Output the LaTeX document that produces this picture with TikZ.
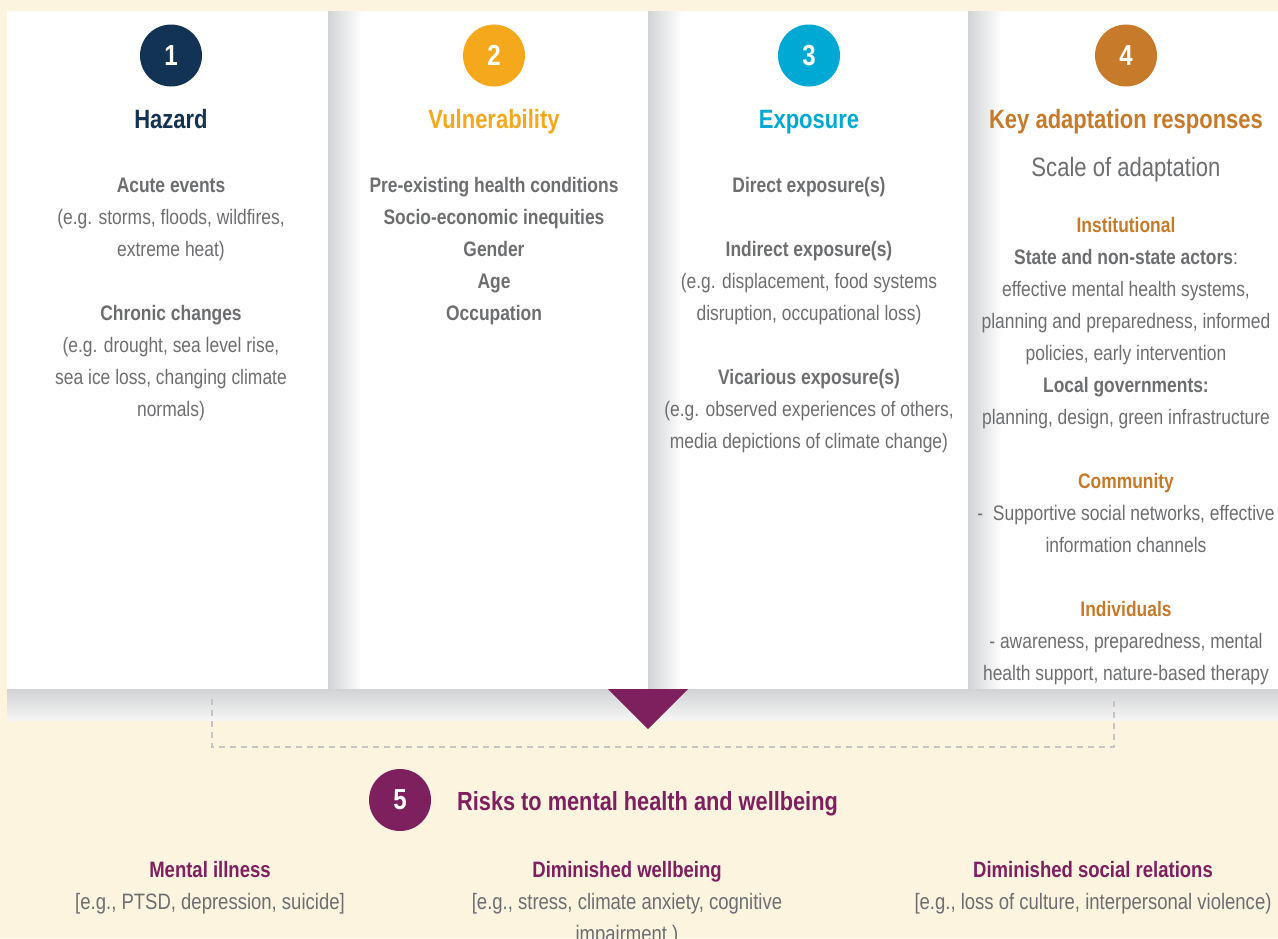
\documentclass[tikz,border=0pt]{standalone}
\usepackage{fontspec}
\setmainfont{Liberation Sans}[FakeStretch=0.83]
\definecolor{cream}{HTML}{FDF4E0}
\definecolor{navy}{HTML}{123354}
\definecolor{amber}{HTML}{F5A81C}
\definecolor{cyanc}{HTML}{00A8D4}
\definecolor{bronze}{HTML}{C77A2A}
\definecolor{plum}{HTML}{7E1F5E}
\definecolor{txt}{HTML}{6D6E70}
\definecolor{shadowgray}{HTML}{D2D3D5}
\definecolor{dashgray}{HTML}{C4C4C4}
\tikzset{
  numcirc/.style={circle, minimum size=62pt, inner sep=0, text=white, font=\fontsize{29}{32}\selectfont\bfseries},
  ttl/.style={anchor=base, inner sep=0, font=\fontsize{26.5}{30}\selectfont\bfseries},
  blk/.style={anchor=north, inner sep=0, align=center, text=txt, font=\fontsize{21}{32}\selectfont},
  bblk/.style={blk, font=\fontsize{21}{32}\selectfont\bfseries},
  rblk/.style={blk, font=\fontsize{22.3}{32}\selectfont},
  colshade/.style={left color=shadowgray, right color=white},
}
\newcommand{\fl}{\rule{0pt}{16pt}}
\begin{document}
\begin{tikzpicture}[x=1pt,y=-1pt]
\useasboundingbox (0,0) rectangle (1278,938);
\fill[cream] (0,0) rectangle (1278,938);
% panels
\fill[white] (7,11) rectangle (1278,690);
\shade[colshade] (328,11) rectangle (362,690);
\shade[colshade] (648,11) rectangle (682,690);
\shade[colshade] (968,11) rectangle (1002,690);
\shade[top color=shadowgray, bottom color=white!96!black] (7,689) rectangle (1278,720);
% dashed bracket
\coordinate (dl) at (212,699);
\coordinate (dr) at (1114,698);
\draw[dashgray, line width=1.3pt, dash pattern=on 6pt off 5pt] (dl) -- (212,747) -- (1114,747) -- (dr);
% triangle
\fill[plum] (608,689) -- (688,689) -- (648,729) -- cycle;

% column 1
\node[numcirc, fill=navy] (c1) at (171,55.5) {1};
\node[ttl, text=navy] (t1) at (171,128) {Hazard};
\node[blk] (h1) at (171,176) {\fl\textbf{Acute events}\\(e.g. storms, floods, wildfires,\\extreme heat)};
\node[blk] (h2) at (171,304) {\fl\textbf{Chronic changes}\\(e.g. drought, sea level rise,\\sea ice loss, changing climate\\normals)};

% column 2
\node[numcirc, fill=amber] (c2) at (494,55.5) {2};
\node[ttl, text=amber] (t2) at (494,128) {Vulnerability};
\node[bblk] (v1) at (494,176) {\fl Pre-existing health conditions\\Socio-economic inequities\\Gender\\Age\\Occupation};

% column 3
\node[numcirc, fill=cyanc] (c3) at (809,55.5) {3};
\node[ttl, text=cyanc] (t3) at (809,128) {Exposure};
\node[bblk] (e1) at (809,176) {\fl Direct exposure(s)};
\node[blk] (e2) at (809,240) {\fl\textbf{Indirect exposure(s)}\\(e.g. displacement, food systems\\disruption, occupational loss)};
\node[blk] (e3) at (809,368) {\fl\textbf{Vicarious exposure(s)}\\(e.g. observed experiences of others,\\media depictions of climate change)};

% column 4
\node[numcirc, fill=bronze] (c4) at (1126,55.5) {4};
\node[ttl, text=bronze] (t4) at (1126,128) {Key adaptation responses};
\node[anchor=base, inner sep=0, text=txt, font=\fontsize{26.6}{32}\selectfont] (s4) at (1126,176) {Scale of adaptation};
\node[blk] (a1) at (1126,216) {\fl\textcolor{bronze}{\textbf{Institutional}}\\\textbf{State and non-state actors}:\\effective mental health systems,\\planning and preparedness, informed\\policies, early intervention\\\textbf{Local governments:}\\planning, design, green infrastructure};
\node[blk] (a2) at (1126,472) {\fl\textcolor{bronze}{\textbf{Community}}\\-\ \ Supportive social networks, effective\\information channels};
\node[blk] (a3) at (1126,600) {\fl\textcolor{bronze}{\textbf{Individuals}}\\- awareness, preparedness, mental\\health support, nature-based therapy};

% bottom
\node[numcirc, fill=plum] (c5) at (400,800) {5};
\node[ttl, anchor=base west, text=plum, font=\fontsize{26.2}{30}\selectfont\bfseries] (t5) at (457,810) {Risks to mental health and wellbeing};
\node[rblk] (r1) at (210,861) {\fl\textcolor{plum}{\textbf{Mental illness}}\\{}[e.g., PTSD, depression, suicide]};
\node[rblk] (r2) at (627,861) {\fl\textcolor{plum}{\textbf{Diminished wellbeing}}\\{}[e.g., stress, climate anxiety, cognitive\\impairment )};
\node[rblk] (r3) at (1093,861) {\fl\textcolor{plum}{\textbf{Diminished social relations}}\\{}[e.g., loss of culture, interpersonal violence)};
\end{tikzpicture}
\end{document}
